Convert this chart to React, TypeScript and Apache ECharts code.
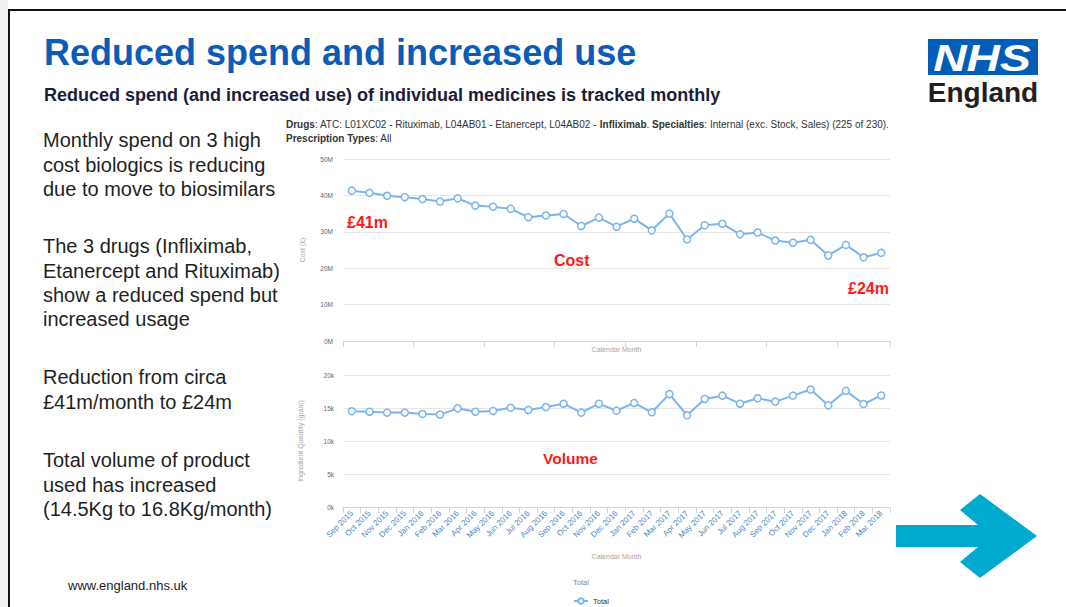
import React, { useEffect, useRef } from "react";
import * as echarts from "echarts";

const months = [
  "Sep 2015", "Oct 2015", "Nov 2015", "Dec 2015",
  "Jan 2016", "Feb 2016", "Mar 2016", "Apr 2016", "May 2016", "Jun 2016",
  "Jul 2016", "Aug 2016", "Sep 2016", "Oct 2016", "Nov 2016", "Dec 2016",
  "Jan 2017", "Feb 2017", "Mar 2017", "Apr 2017", "May 2017", "Jun 2017",
  "Jul 2017", "Aug 2017", "Sep 2017", "Oct 2017", "Nov 2017", "Dec 2017",
  "Jan 2018", "Feb 2018", "Mar 2018",
];

// Cost in £ millions
const costMillions = [
  41.3, 40.7, 39.9, 39.5, 39.0, 38.3, 39.2, 37.2, 36.9, 36.3, 34.0, 34.5, 34.9,
  31.6, 33.9, 31.4, 33.6, 30.4, 35.0, 27.9, 31.8, 32.2, 29.3, 29.8, 27.6, 27.0,
  27.8, 23.5, 26.4, 23.0, 24.2,
];

// Ingredient quantity in thousands of grams
const volumeThousands = [
  14.5, 14.44, 14.3, 14.3, 14.1, 14.0, 14.95, 14.44, 14.55, 15.05, 14.7, 15.15,
  15.65, 14.3, 15.65, 14.6, 15.76, 14.35, 17.1, 13.9, 16.37, 16.87, 15.65, 16.47,
  15.96, 16.87, 17.8, 15.4, 17.6, 15.6, 16.9,
];

const costTicks = [0, 10, 20, 30, 40, 50];
const volumeTicks = [0, 5, 10, 15, 20];

const bulletParagraphs = [
  ["Monthly spend on 3 high", "cost biologics is reducing", "due to move to biosimilars"],
  ["The 3 drugs (Infliximab,", "Etanercept and Rituximab)", "show a reduced spend but", "increased usage"],
  ["Reduction from circa", "£41m/month to £24m"],
  ["Total volume of product", "used has increased", "(14.5Kg to 16.8Kg/month)"],
];

const FONT = "'Liberation Sans', Arial, Helvetica, sans-serif";
const LINE = "#7cb5ec";

export default function App() {
  const ref = useRef<HTMLDivElement>(null);

  useEffect(() => {
    if (!ref.current) return;
    const chart = echarts.init(ref.current, undefined, { renderer: "svg" });

    const paraTops = [128, 234, 365, 448];
    const paraGraphics = bulletParagraphs.map((lines, i) => ({
      type: "text",
      left: 43,
      top: paraTops[i],
      style: {
        text: lines.join("\n"),
        font: `20px ${FONT}`,
        fill: "#1f1f1f",
        lineHeight: 24.4,
      },
    }));

    const redLabel = (text: string, x: number, y: number, size = 16) => ({
      type: "text",
      x,
      y,
      style: {
        text,
        font: `bold ${size}px ${FONT}`,
        fill: "#ff1a1a",
        verticalAlign: "middle",
        align: "left",
      },
      z: 20,
    });

    const axisNameStyle = { color: "#a6a6a6", fontSize: 7, fontFamily: FONT };
    const yLabelStyle = { color: "#666", fontSize: 6.5, fontFamily: FONT };

    chart.setOption({
      animation: false,
      backgroundColor: "#ffffff",
      textStyle: { fontFamily: FONT },
      legend: {
        data: ["Total"],
        left: 568,
        top: 592,
        itemWidth: 14,
        itemHeight: 7,
        itemGap: 4,
        textStyle: { fontSize: 7.5, color: "#333", fontFamily: FONT },
      },
      grid: [
        { left: 343, top: 159, width: 547, height: 182 },
        { left: 343, top: 375, width: 547, height: 132 },
      ],
      xAxis: [
        {
          type: "category",
          gridIndex: 0,
          data: months,
          boundaryGap: true,
          axisLine: { lineStyle: { color: "#ccd6eb" } },
          axisTick: { show: true, length: 6, lineStyle: { color: "#ccd6eb" } },
          axisLabel: { show: false },
          name: "Calendar Month",
          nameLocation: "middle",
          nameGap: 5,
          nameTextStyle: axisNameStyle,
        },
        {
          type: "category",
          gridIndex: 1,
          data: months,
          boundaryGap: true,
          axisLine: { lineStyle: { color: "#ccd6eb" } },
          axisTick: { show: true, length: 6, lineStyle: { color: "#ccd6eb" } },
          axisLabel: {
            rotate: 45,
            interval: 0,
            fontSize: 8,
            color: "#4a86c8",
            fontFamily: FONT,
            margin: 5,
          },
          name: "Calendar Month",
          nameLocation: "middle",
          nameGap: 46,
          nameTextStyle: axisNameStyle,
        },
      ],
      yAxis: [
        {
          type: "value",
          gridIndex: 0,
          min: costTicks[0],
          max: costTicks[costTicks.length - 1],
          interval: 10,
          axisLabel: { ...yLabelStyle, formatter: (v: number) => `${v}M`, margin: 10 },
          axisLine: { show: false },
          axisTick: { show: false },
          splitLine: { lineStyle: { color: "#e6e6e6" } },
          name: "Cost (£)",
          nameLocation: "middle",
          nameGap: 37,
          nameTextStyle: axisNameStyle,
        },
        {
          type: "value",
          gridIndex: 1,
          min: volumeTicks[0],
          max: volumeTicks[volumeTicks.length - 1],
          interval: 5,
          axisLabel: { ...yLabelStyle, formatter: (v: number) => `${v}k`, margin: 9 },
          axisLine: { show: false },
          axisTick: { show: false },
          splitLine: { lineStyle: { color: "#e6e6e6" } },
          name: "Ingredient Quantity (gram)",
          nameLocation: "middle",
          nameGap: 39,
          nameTextStyle: axisNameStyle,
        },
      ],
      series: [
        {
          name: "Total",
          type: "line",
          xAxisIndex: 0,
          yAxisIndex: 0,
          data: costMillions,
          symbol: "circle",
          symbolSize: 7,
          itemStyle: { color: "#ffffff", borderColor: LINE, borderWidth: 1.5 },
          lineStyle: { color: LINE, width: 2 },
        },
        {
          name: "Total",
          type: "line",
          xAxisIndex: 1,
          yAxisIndex: 1,
          data: volumeThousands,
          symbol: "circle",
          symbolSize: 7,
          itemStyle: { color: "#ffffff", borderColor: LINE, borderWidth: 1.5 },
          lineStyle: { color: LINE, width: 2 },
        },
      ],
      graphic: [
        // left grey strip and slide border
        { type: "rect", shape: { x: 0, y: 0, width: 8, height: 607 }, style: { fill: "#f1f1f1" } },
        { type: "rect", shape: { x: 8, y: 9, width: 1058, height: 2 }, style: { fill: "#111" } },
        { type: "rect", shape: { x: 8, y: 9, width: 2, height: 598 }, style: { fill: "#111" } },
        // Title
        {
          type: "text",
          x: 44,
          y: 52,
          style: {
            text: "Reduced spend and increased use",
            font: `bold 36px ${FONT}`,
            fill: "#0b5cb8",
            verticalAlign: "middle",
          },
        },
        {
          type: "text",
          x: 44,
          y: 95,
          style: {
            text: "Reduced spend (and increased use) of individual medicines is tracked monthly",
            font: `bold 18px ${FONT}`,
            fill: "#1c1c3a",
            verticalAlign: "middle",
          },
        },
        ...paraGraphics,
        {
          type: "text",
          x: 68,
          y: 585,
          style: {
            text: "www.england.nhs.uk",
            font: `13px ${FONT}`,
            fill: "#222",
            verticalAlign: "middle",
          },
        },
        // NHS logo
        { type: "rect", shape: { x: 928, y: 39, width: 110, height: 36 }, style: { fill: "#005eb8" } },
        {
          type: "text",
          x: 982,
          y: 58,
          scaleX: 1.25,
          z: 30,
          style: {
            text: "NHS",
            fontSize: 37,
            fontWeight: "bold",
            fontStyle: "italic",
            fontFamily: FONT,
            fill: "#ffffff",
            align: "center",
            verticalAlign: "middle",
          },
        },
        {
          type: "text",
          x: 983,
          y: 92,
          style: {
            text: "England",
            font: `bold 28px ${FONT}`,
            fill: "#231f20",
            align: "center",
            verticalAlign: "middle",
          },
        },
        // Arrow
        {
          type: "polygon",
          shape: {
            points: [
              [896, 525], [978, 525], [960, 510], [980, 494], [1037, 536],
              [980, 578], [960, 562], [978, 547], [896, 547],
            ],
          },
          style: { fill: "#00a9ce" },
        },
        // Chart info header
        {
          type: "text",
          x: 286,
          y: 117,
          style: {
            text:
              "{b|Drugs}: ATC: L01XC02 - Rituximab, L04AB01 - Etanercept, L04AB02 - {b|Infliximab}. {b|Specialties}: Internal (exc. Stock, Sales) (225 of 230).\n{b|Prescription Types}: All",
            font: `10px ${FONT}`,
            fill: "#333",
            lineHeight: 14,
            rich: {
              b: { fontWeight: "bold", fontSize: 10, fontFamily: FONT, fill: "#333", lineHeight: 14 },
            },
          },
        },
        // Legend title
        {
          type: "text",
          x: 573,
          y: 582,
          style: { text: "Total", font: `7.5px ${FONT}`, fill: "#888", verticalAlign: "middle" },
        },
        // Annotations
        redLabel("£41m", 347, 222),
        redLabel("Cost", 554, 260),
        redLabel("£24m", 848, 288),
        redLabel("Volume", 543, 458, 15.5),
      ],
    });

    return () => chart.dispose();
  }, []);

  return (
    <div
      ref={ref}
      style={{ position: "absolute", left: 0, top: 0, width: 1066, height: 607 }}
    />
  );
}
